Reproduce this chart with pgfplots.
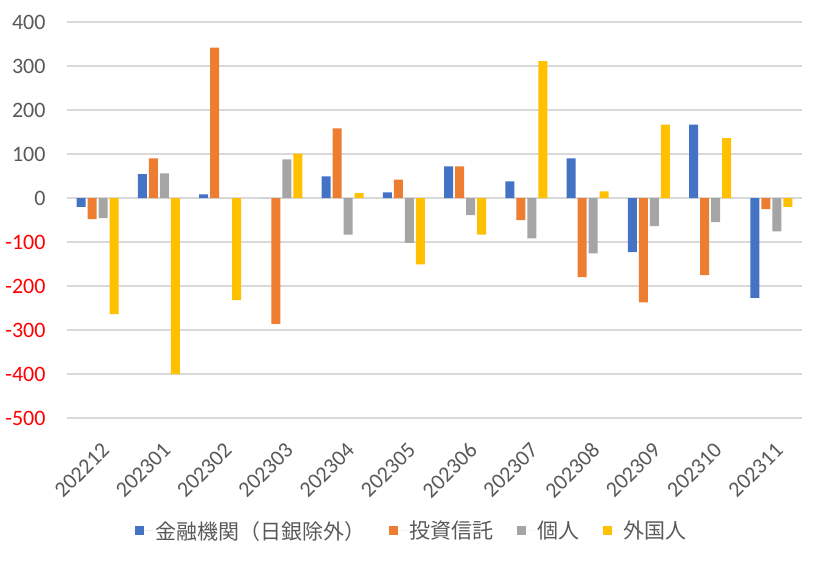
\documentclass[border=0pt]{standalone}
\usepackage{pgfplots}
\pgfplotsset{compat=1.18}
\usepackage{pgfplotstable}
\usepackage{fontspec}
\setmainfont{Carlito}
\newfontfamily\cjk{Noto Sans CJK JP}

\definecolor{cblue}{HTML}{4472C4}
\definecolor{corange}{HTML}{ED7D31}
\definecolor{cgray}{HTML}{A5A5A5}
\definecolor{cyellow}{HTML}{FFC000}
\definecolor{txt}{HTML}{595959}
\definecolor{gridc}{HTML}{D9D9D9}

% month, financial, trusts, individuals, foreigners
\pgfplotstableread{
x fin inv ind for
0  -20  -48  -46 -264
1   54   90   56 -400
2    8  342    0 -232
3    0 -286   88  101
4   49  158  -83   11
5   13   42 -102 -151
6   72   72  -39  -83
7   38  -50  -92  311
8   90 -180 -126   15
9 -123 -237  -64  167
10 167 -175  -55  136
11 -227 -25  -76  -20
}\flows

\begin{document}
\begin{tikzpicture}
\useasboundingbox (0,0) rectangle (816pt,563pt);
\begin{axis}[
    at={(67pt,145pt)}, anchor=south west,
    scale only axis,
    width=735pt, height=396pt,
    ybar=2pt, bar width=9pt,
    legend image code/.code={\fill[#1,draw=none] (0pt,-4.5pt) rectangle (8.5pt,4.5pt); \path (0pt,0pt) -- (18pt,0pt);},
    xmin=-0.5, xmax=11.5,
    ymin=-500, ymax=400,
    xtick=data,
    xticklabels={202212,202301,202302,202303,202304,202305,202306,202307,202308,202309,202310,202311},
    ytick={0,100,200,300,400},
    extra y ticks={-500,-400,-300,-200,-100},
    extra y tick style={yticklabel style={text=red}, grid=major},
    ymajorgrids,
    grid style={gridc, line width=1.3pt},
    axis line style={draw=none},
    major tick length=0pt,
    /pgf/number format/assume math mode=true,
    ticklabel style={font=\fontsize{22}{24}\selectfont, text=txt},
    yticklabel style={xshift=-18pt},
    xticklabel style={rotate=45, anchor=north east, xshift=-11pt, yshift=-15pt},
    legend columns=-1,
    legend style={at={(0.469,-0.285)}, anchor=center, draw=none, fill=none,
        font=\cjk\fontsize{21}{24}\selectfont, text=txt,
        /tikz/every even column/.append style={column sep=22pt},
        /tikz/every odd column/.append style={column sep=0pt}},
]
\addplot[fill=cblue, draw=none] table[x=x, y=fin] {\flows};
\addplot[fill=corange, draw=none] table[x=x, y=inv] {\flows};
\addplot[fill=cgray, draw=none] table[x=x, y=ind] {\flows};
\addplot[fill=cyellow, draw=none] table[x=x, y=for] {\flows};
\legend{金融機関（日銀除外）, 投資信託, 個人, 外国人}
\end{axis}
\end{tikzpicture}
\end{document}
